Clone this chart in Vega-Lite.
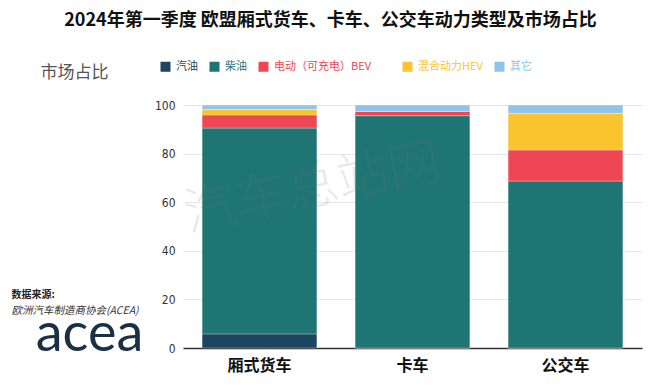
{
  "$schema": "https://vega.github.io/schema/vega-lite/v6.json",
  "width": 459,
  "height": 243,
  "autosize": {"type": "none"},
  "padding": {"left": 183, "top": 105, "right": 18, "bottom": 38},
  "background": "white",
  "title": {
    "text": "2024年第一季度  欧盟厢式货车、卡车、公交车动力类型及市场占比",
    "font": "Noto Sans CJK SC",
    "fontSize": 18,
    "fontWeight": "bold",
    "color": "#111111",
    "anchor": "middle",
    "dx": -82,
    "dy": -27
  },
  "encoding": {
    "x": {
      "field": "vehicle",
      "type": "nominal",
      "sort": ["厢式货车", "卡车", "公交车"],
      "scale": {"paddingInner": 0.25, "paddingOuter": 0.125},
      "axis": {
        "title": null,
        "labelAngle": 0,
        "labelFont": "Noto Sans CJK SC",
        "labelFontSize": 16,
        "labelFontWeight": "bold",
        "labelColor": "#111111",
        "labelPadding": 9,
        "ticks": false,
        "domainColor": "#333333",
        "domainWidth": 1.5,
        "grid": false
      }
    }
  },
  "layer": [
    {
      "data": {
        "values": [
          {"vehicle": "厢式货车", "type": "汽油", "share": 5.8},
          {"vehicle": "厢式货车", "type": "柴油", "share": 84.7},
          {"vehicle": "厢式货车", "type": "电动（可充电）BEV", "share": 5.4},
          {"vehicle": "厢式货车", "type": "混合动力HEV", "share": 2.3},
          {"vehicle": "厢式货车", "type": "其它", "share": 1.8},
          {"vehicle": "卡车", "type": "汽油", "share": 0},
          {"vehicle": "卡车", "type": "柴油", "share": 95.6},
          {"vehicle": "卡车", "type": "电动（可充电）BEV", "share": 1.8},
          {"vehicle": "卡车", "type": "混合动力HEV", "share": 0},
          {"vehicle": "卡车", "type": "其它", "share": 2.6},
          {"vehicle": "公交车", "type": "汽油", "share": 0},
          {"vehicle": "公交车", "type": "柴油", "share": 68.7},
          {"vehicle": "公交车", "type": "电动（可充电）BEV", "share": 12.8},
          {"vehicle": "公交车", "type": "混合动力HEV", "share": 15.1},
          {"vehicle": "公交车", "type": "其它", "share": 3.4}
        ]
      },
      "transform": [
        {"calculate": "indexof(['汽油', '柴油', '电动（可充电）BEV', '混合动力HEV', '其它'], datum.type)", "as": "stackRank"}
      ],
      "mark": {"type": "bar", "stroke": "white", "strokeWidth": 0.6, "strokeOpacity": 0.5},
      "encoding": {
        "y": {
          "field": "share",
          "type": "quantitative",
          "stack": "zero",
          "scale": {"domain": [0, 100], "nice": false},
          "axis": {
            "title": "市场占比",
            "titleAngle": 0,
            "titleX": -143,
            "titleY": -33,
            "titleAlign": "left",
            "titleBaseline": "middle",
            "titleFont": "Noto Sans CJK SC",
            "titleFontSize": 17,
            "titleFontWeight": "normal",
            "titleColor": "#555555",
            "values": [0, 20, 40, 60, 80, 100],
            "labelFont": "Liberation Sans Narrow, DejaVu Sans Condensed, sans-serif",
            "labelFontSize": 12,
            "labelColor": "#333333",
            "labelPadding": 8,
            "ticks": false,
            "domain": false,
            "gridColor": "#e6e6e6",
            "gridWidth": 1
          }
        },
        "order": {"field": "stackRank", "type": "quantitative", "sort": "ascending"},
        "color": {
          "field": "type",
          "type": "nominal",
          "sort": ["汽油", "柴油", "电动（可充电）BEV", "混合动力HEV", "其它"],
          "scale": {
            "domain": ["汽油", "柴油", "电动（可充电）BEV", "混合动力HEV", "其它"],
            "range": ["#1d4460", "#1e7574", "#ef4655", "#f9c42e", "#8fc3ea"]
          },
          "legend": {
            "title": null,
            "orient": "none",
            "legendX": -23,
            "legendY": -44,
            "direction": "horizontal",
            "symbolType": "square",
            "symbolSize": 100,
            "symbolStrokeWidth": 0,
            "labelFont": "Noto Sans CJK SC",
            "labelFontSize": 11,
            "labelOffset": 5,
            "columnPadding": 11,
            "padding": 0,
            "encoding": {
              "labels": {
                "fill": {"value": {"expr": "scale('color', datum.value)"}},
                "text": {"value": {"expr": "datum.value == '电动（可充电）BEV' ? datum.value + '\u3000\u2800' : datum.value"}}
              }
            }
          }
        }
      }
    },
    {
      "data": {"values": [{}]},
      "mark": {
        "type": "text",
        "text": "汽车总站网",
        "font": "Noto Sans CJK SC",
        "fontSize": 52,
        "fontWeight": 300,
        "angle": 348,
        "color": "#777777",
        "opacity": 0.16,
        "align": "center",
        "baseline": "middle",
        "dx": 54
      },
      "encoding": {
        "x": {"datum": "厢式货车"},
        "y": {"datum": 61}
      }
    },
    {
      "data": {"values": [{}]},
      "mark": {
        "type": "text",
        "text": "数据来源:",
        "font": "Noto Sans CJK SC",
        "fontSize": 10,
        "fontWeight": "bold",
        "color": "#222222",
        "align": "left",
        "baseline": "middle",
        "dx": -248
      },
      "encoding": {
        "x": {"datum": "厢式货车"},
        "y": {"datum": 22}
      }
    },
    {
      "data": {"values": [{}]},
      "mark": {
        "type": "text",
        "text": "欧洲汽车制造商协会(ACEA)",
        "font": "Noto Sans CJK SC",
        "fontSize": 10.5,
        "fontStyle": "italic",
        "color": "#333333",
        "align": "left",
        "baseline": "middle",
        "dx": -248
      },
      "encoding": {
        "x": {"datum": "厢式货车"},
        "y": {"datum": 15.3}
      }
    },
    {
      "data": {"values": [{}]},
      "mark": {
        "type": "text",
        "text": "acea",
        "font": "Lato",
        "fontSize": 54,
        "color": "#1b3045",
        "align": "center",
        "baseline": "middle",
        "dx": -170
      },
      "encoding": {
        "x": {"datum": "厢式货车"},
        "y": {"datum": 5.5}
      }
    }
  ],
  "config": {
    "view": {"stroke": null}
  }
}
